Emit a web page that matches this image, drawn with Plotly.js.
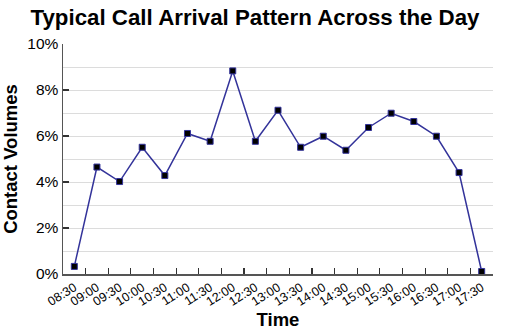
<!DOCTYPE html>
<html><head><meta charset="utf-8">
<script src="https://cdn.plot.ly/plotly-3.0.1.min.js"></script>
<style>html,body{margin:0;padding:0;background:#fff}#chart{width:510px;height:330px}</style>
</head><body><div id="chart"></div>
<script>
const times = ["08:30","09:00","09:30","10:00","10:30","11:00","11:30","12:00","12:30","13:00","13:30","14:00","14:30","15:00","15:30","16:00","16:30","17:00","17:30"];
const volumes = [0.33,4.65,4.02,5.51,4.28,6.11,5.77,8.83,5.77,7.12,5.51,5.99,5.38,6.37,6.99,6.63,5.99,4.41,0.11];
const yTicks = [0,2,4,6,8,10];
const yTickText = ["0%","2%","4%","6%","8%","10%"];

const font = "Liberation Sans, Arial, sans-serif";
Plotly.newPlot("chart", [{
  x: times, y: volumes, type: "scatter", mode: "lines+markers",
  line: {color: "#33339a", width: 1.5},
  marker: {symbol: "square", size: 6, color: "#000", line: {color: "#33339a", width: 1}},
  hoverinfo: "skip"
}], {
  width: 510, height: 330,
  margin: {l: 63, r: 17, t: 44, b: 56},
  paper_bgcolor: "#fff", plot_bgcolor: "#fff",
  font: {family: font, color: "#000"},
  title: {text: "<b>Typical Call Arrival Pattern Across the Day</b>", font: {size: 22.3, family: font}, x: 0.5, xanchor: "center", y: 0.948, yanchor: "middle"},
  showlegend: false,
  xaxis: {
    type: "category", range: [-0.5, 18.5],
    tickson: "boundaries", ticks: "inside", ticklen: 6, tickcolor: "#333", tickwidth: 1.2,
    showline: true, linecolor: "#555", linewidth: 1.5, showgrid: false, zeroline: false,
    tickangle: -32, tickfont: {size: 12.5},
    title: {text: "<b>Time</b>", font: {size: 18.5}, standoff: 4}
  },
  yaxis: {
    range: [0, 10], tickvals: yTicks, ticktext: yTickText,
    ticks: "inside", ticklen: 6, tickcolor: "#333", tickwidth: 1.2,
    showline: true, linecolor: "#555", linewidth: 1.5,
    showgrid: true, gridcolor: "#dcdcdc", zeroline: false,
    minor: {dtick: 1, showgrid: true, gridcolor: "#dcdcdc", ticks: ""},
    tickfont: {size: 15.5},
    title: {text: "<b>Contact Volumes</b>", font: {size: 18.5}, standoff: 8}
  }
}, {staticPlot: true});
</script></body></html>
